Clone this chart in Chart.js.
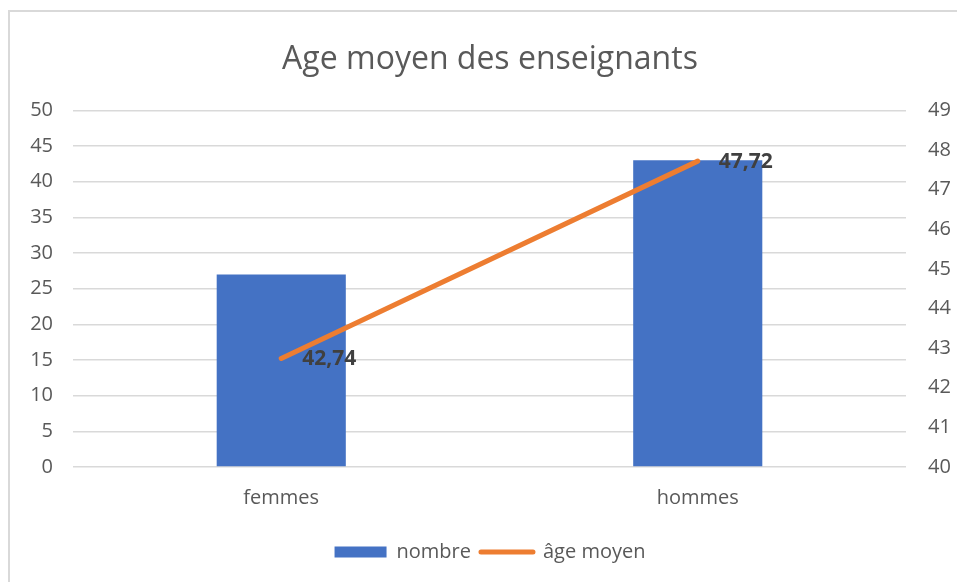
<!DOCTYPE html>
<html>
<head>
<meta charset="utf-8">
<script src="https://cdn.jsdelivr.net/npm/chart.js@4"></script>
<style>
  html, body { margin: 0; padding: 0; background: #fff; overflow: hidden; }
  #frame { position: absolute; left: 8px; top: 10px; width: 1000px; height: 600px; border: 2px solid #d9d9d9; }
  #wrap { position: absolute; left: 0; top: 0; width: 980px; height: 582px; }
</style>
</head>
<body>
<div id="frame"></div>
<div id="wrap"><canvas id="ageChart" width="980" height="582"></canvas></div>
<script>
// data
const categories = ['femmes', 'hommes'];
const nombre = [27, 43];
const ageMoyen = [42.74, 47.72];
const leftTicks = [0, 50, 5];   // min, max, step
const rightTicks = [40, 49, 1];

const textGrey = '#595959';
const fontFamily = "'Open Sans', 'Noto Sans', sans-serif";

// writes the value labels next to the line points (French decimal comma)
const valueLabels = {
    id: 'valueLabels',
    afterDatasetsDraw(chart) {
        const meta = chart.getDatasetMeta(1);
        const ctx = chart.ctx;
        ctx.save();
        ctx.font = 'bold 21px ' + fontFamily;
        ctx.fillStyle = '#404040';
        ctx.textBaseline = 'middle';
        ctx.textAlign = 'left';
        meta.data.forEach(function(pt, i) {
            const txt = ageMoyen[i].toFixed(2).replace('.', ',');
            ctx.fillText(txt, pt.x + 21, pt.y + 1);
        });
        ctx.restore();
    }
};

const ctx = document.getElementById('ageChart').getContext('2d');
new Chart(ctx, {
    type: 'bar',
    data: {
        labels: categories,
        datasets: [{
            label: 'nombre',
            data: nombre,
            backgroundColor: '#4472c4',
            yAxisID: 'y',
            order: 1,
            barPercentage: 0.31,
            categoryPercentage: 1
        }, {
            type: 'line',
            label: 'âge moyen',
            data: ageMoyen,
            borderColor: '#ed7d31',
            backgroundColor: '#ed7d31',
            borderWidth: 5,
            borderCapStyle: 'round',
            pointRadius: 0,
            yAxisID: 'y1',
            order: 0
        }]
    },
    plugins: [valueLabels],
    options: {
        responsive: false,
        animation: false,
        layout: { padding: { left: 0, right: 0, top: 0, bottom: 10 } },
        scales: {
            x: {
                grid: { display: false },
                border: { display: false },
                ticks: { color: textGrey, font: { family: fontFamily, size: 20 }, padding: 11 },
                afterFit: function(scale) { scale.height = 65; }
            },
            y: {
                position: 'left',
                min: leftTicks[0],
                max: leftTicks[1],
                ticks: { stepSize: leftTicks[2], color: textGrey, font: { family: fontFamily, size: 20 }, padding: 20 },
                grid: { color: '#d9d9d9', lineWidth: 1.5, drawTicks: false },
                border: { display: false },
                afterFit: function(scale) { scale.width = 73; }
            },
            y1: {
                position: 'right',
                min: rightTicks[0],
                max: rightTicks[1],
                ticks: { stepSize: rightTicks[2], color: textGrey, font: { family: fontFamily, size: 20 }, padding: 22 },
                grid: { display: false, drawTicks: false },
                border: { display: false },
                afterFit: function(scale) { scale.width = 74; }
            }
        },
        plugins: {
            title: {
                display: true,
                text: 'Age moyen des enseignants',
                color: textGrey,
                font: { family: fontFamily, size: 32, weight: 'normal' },
                padding: { top: 41, bottom: 31 }
            },
            legend: {
                position: 'bottom',
                labels: {
                    color: textGrey,
                    font: { family: fontFamily, size: 20 },
                    usePointStyle: true,
                    pointStyleWidth: 52,
                    boxWidth: 52,
                    boxHeight: 11,
                    padding: 10,
                    sort: function(a, b) { return a.datasetIndex - b.datasetIndex; },
                    generateLabels: function(chart) {
                        const items = Chart.defaults.plugins.legend.labels.generateLabels(chart);
                        items.forEach(function(it) {
                            if (it.datasetIndex === 0) {
                                it.pointStyle = 'rect';
                                it.lineWidth = 0;
                                it.fillStyle = '#4472c4';
                                it.strokeStyle = '#4472c4';
                            } else {
                                it.pointStyle = 'line';
                                it.lineWidth = 5;
                                it.lineCap = 'round';
                                it.strokeStyle = '#ed7d31';
                            }
                        });
                        return items;
                    }
                }
            },
            tooltip: { enabled: false }
        }
    }
});
</script>
</body>
</html>
